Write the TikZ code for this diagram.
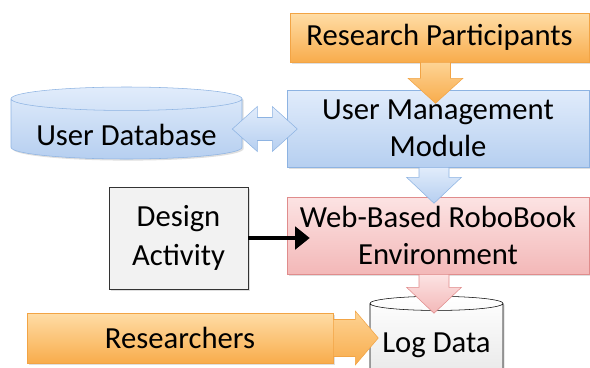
\documentclass[tikz,border=0pt]{standalone}
\usepackage{fontspec}
\setmainfont{Carlito}
\usetikzlibrary{shapes.geometric,shadows,arrows.meta,calc}
\definecolor{orgtop}{HTML}{FFDDA6}
\definecolor{orgbot}{HTML}{F8AC4C}
\definecolor{orgline}{HTML}{F2A445}
\definecolor{blutop}{HTML}{E1ECFB}
\definecolor{blubot}{HTML}{B6CFF0}
\definecolor{bluline}{HTML}{8DB3E2}
\definecolor{pnktop}{HTML}{FCE3E3}
\definecolor{pnkbot}{HTML}{F3B8B8}
\definecolor{pnkline}{HTML}{E08C8C}
\definecolor{grybox}{HTML}{F2F2F2}
\begin{document}
\begin{tikzpicture}[x=0.75pt,y=-0.75pt,
	shadowed/.style={drop shadow={opacity=0.25,shadow xshift=1.2pt,shadow yshift=-1.2pt}},
	txt/.style={font=\fontsize{23}{28}\selectfont,align=center,inner sep=0pt},
	orangebox/.style={txt,shadowed,draw=orgline,top color=orgtop,bottom color=orgbot},
	bluebox/.style={txt,shadowed,draw=bluline,top color=blutop,bottom color=blubot},
	pinkbox/.style={txt,shadowed,draw=pnkline,top color=pnktop,bottom color=pnkbot},
	graybox/.style={txt,font=\fontsize{23}{29}\selectfont,shadowed,draw=black!80,fill=grybox},
	db/.style={txt,shadowed,cylinder,shape border rotate=90,aspect=0.13},
	orangearrow/.style={draw=orgline,top color=orgtop!80!orgbot,bottom color=orgbot},
	bluearrow/.style={draw=bluline,top color=blutop,bottom color=blubot},
	pinkarrow/.style={draw=pnkline,top color=pnktop,bottom color=pnkbot}]
	\def\u{0.75pt}
	\useasboundingbox (0,0) rectangle (590,368);
	\clip (0,0) rectangle (590,368);
	% boxes
	\node[orangebox,minimum width=299*\u,minimum height=49*\u] (rp) at (439.5,37.5) {Research Participants};
	\node[bluebox,minimum width=302*\u,minimum height=77*\u] (umm) at (438,128.5) {User Management\\Module};
	\node[pinkbox,minimum width=302*\u,minimum height=77*\u] (web) at (438,235.5) {Web-Based RoboBook\\Environment};
	\node[graybox,minimum width=139*\u,minimum height=102*\u] (act) at (178.5,238) {Design\\Activity};
	\node[orangebox,minimum width=306*\u,minimum height=50*\u] (res) at (180,338) {Researchers};
	\node[db,draw=bluline,top color=blutop,bottom color=blubot,minimum width=231*\u,minimum height=72*\u] (udb) at (126.5,129) {\raisebox{-12pt}[0pt][0pt]{User Database}};
	\node[db,draw=black,top color=white,bottom color=black!10,minimum width=133*\u,minimum height=90*\u] (log) at (436.5,345) {Log Data};
	% block arrows
	\path[orangearrow] (rp.south) ++(-19,0) -- ++(0,16) -- ++(-12.5,0) -- ++(27.5,25) -- ++(27.5,-25) -- ++(-12.5,0) -- ++(0,-16) -- cycle;
	\path[bluearrow] (umm.south) ++(-19,0) -- ++(0,10) -- ++(-12.5,0) -- ++(27.5,26) -- ++(27.5,-26) -- ++(-12.5,0) -- ++(0,-10) -- cycle;
	\path[pinkarrow] (web.south) ++(-19,0) -- ++(0,13) -- ++(-12.5,0) -- ++(27.5,26) -- ++(27.5,-26) -- ++(-12.5,0) -- ++(0,-13) -- cycle;
	\path[bluearrow] (udb.east) ++(-10,0) -- ++(25,-22.5) -- ++(0,11) -- ++(15,0) -- ++(0,-11) -- ++(25,22.5) -- ++(-25,22.5) -- ++(0,-11) -- ++(-15,0) -- ++(0,11) -- cycle;
	\path[orangearrow] (res.east) ++(0,-18.5) -- ++(22,0) -- ++(0,-8.5) -- ++(23,27) -- ++(-23,27) -- ++(0,-8.5) -- ++(-22,0) -- cycle;
	\draw[line width=2.4pt,-{Triangle[length=11pt,width=17pt]}] (act.east) -- ($(act.east -| web.west)+(23,0)$);
\end{tikzpicture}
\end{document}
